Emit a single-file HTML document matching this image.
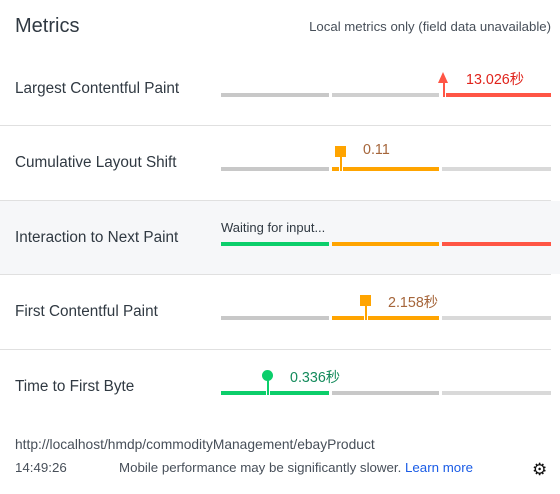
<!DOCTYPE html>
<html><head><meta charset="utf-8">
<style>
body{margin:0;width:560px;height:494px;background:#fff;font-family:"Liberation Sans","Noto Sans CJK SC",sans-serif;position:relative;overflow:hidden;color:#303942}
.abs{position:absolute}
.lbl{position:absolute;left:15px;font-size:15.3px;color:#303942;white-space:nowrap}
.sep{position:absolute;left:0;width:551px;height:1px;background:#e0e0e0}
.seg{position:absolute;height:4px}
.val{position:absolute;font-size:14.3px;white-space:nowrap}
</style></head><body>
<div class="abs" style="left:15px;top:15px;font-size:20px;color:#303942">Metrics</div>
<div class="abs" style="right:9px;top:19px;font-size:13.2px;color:#474f59">Local metrics only (field data unavailable)</div>
<div class="abs" style="left:0;top:201px;width:560px;height:73px;background:#f6f7f9"></div>
<div id="chart"></div>
<div class="abs" style="left:15px;top:437px;font-size:13.8px;color:#474f59">http://localhost/hmdp/commodityManagement/ebayProduct</div>
<div class="abs" style="left:15px;top:460px;font-size:13.3px;color:#474f59">14:49:26</div>
<div class="abs" style="left:119px;top:460px;font-size:13.3px;color:#474f59">Mobile performance may be significantly slower. <span style="color:#1a5ce6">Learn more</span></div>
<div class="abs" style="left:532px;top:460px;font-size:17px;color:#111">⚙</div>
<script>
const metricNames=["Largest Contentful Paint","Cumulative Layout Shift","Interaction to Next Paint","First Contentful Paint","Time to First Byte"];
const metricValues=[13.026,0.11,null,2.158,0.336];
const valueLabels=["13.026秒","0.11","Waiting for input...","2.158秒","0.336秒"];
const goodThresholds=[2.5,0.1,0.2,1.8,0.8];
const poorThresholds=[4,0.25,0.5,3,1.8];
const segColors=[["#c8c8c8","#cfcfcf","#ff5545"],["#c8c8c8","#ffa400","#d9d9d9"],["#0cce6b","#ffa400","#ff5545"],["#c8c8c8","#ffa400","#d9d9d9"],["#0cce6b","#c8c8c8","#d9d9d9"]];
const markerColors=["#ff5545","#ffa400","#999","#ffa400","#0cce6b"];
const textColors=["#e0231b","#a5653a","#303942","#a5653a","#138a5b"];
const rowTop=[51,125,200,274,349];
const segX=[221,332,442],segW=[108,107,109];
function xScale(i,v){
  const g=goodThresholds[i],p=poorThresholds[i];
  if(v<=g) return segX[0]+v/g*segW[0];
  if(v<=p) return segX[1]+(v-g)/(p-g)*segW[1];
  return segX[2];
}
const c=document.getElementById('chart');
for(let i=0;i<metricNames.length;i++){
  const t=rowTop[i];
  if(i>0){const s=document.createElement('div');s.className='sep';s.style.top=t+'px';
    
    c.appendChild(s);}
  const l=document.createElement('div');l.className='lbl';l.style.top=(t+29)+'px';l.textContent=metricNames[i];
  
  c.appendChild(l);
  for(let k=0;k<3;k++){const b=document.createElement('div');b.className='seg';
    b.style.left=segX[k]+'px';b.style.width=segW[k]+'px';b.style.top=(t+42)+'px';b.style.background=segColors[i][k];
    
    c.appendChild(b);}
  const v=metricValues[i];
  const tx=document.createElement('div');tx.className='val';tx.textContent=valueLabels[i];tx.style.color=textColors[i];
  
  
  if(v===null){tx.style.left='221px';tx.style.top=(t+20)+'px';tx.style.fontSize='13px';c.appendChild(tx);continue;}
  const x=Math.round(xScale(i,v));
  const line=document.createElement('div');line.className='abs';
  line.style.cssText=`left:${x}px;top:${t+30}px;width:2px;height:16px;background:${markerColors[i]};border-left:1px solid #fff;border-right:1px solid #fff`;
  
  c.appendChild(line);
  const m=document.createElement('div');m.className='abs';
  if(i===0){m.style.cssText=`left:${x-4}px;top:${t+21}px;width:0;height:0;border-left:5px solid transparent;border-right:5px solid transparent;border-bottom:11px solid ${markerColors[i]}`;}
  else if(i===4){m.style.cssText=`left:${x-4}px;top:${t+21}px;width:11px;height:11px;border-radius:50%;background:${markerColors[i]}`;}
  else{m.style.cssText=`left:${x-4}px;top:${t+21}px;width:11px;height:11px;background:${markerColors[i]}`;}
  
  c.appendChild(m);
  tx.style.left=(x+24)+'px';tx.style.top=(t+17)+'px';c.appendChild(tx);
}
</script>
</body></html>
